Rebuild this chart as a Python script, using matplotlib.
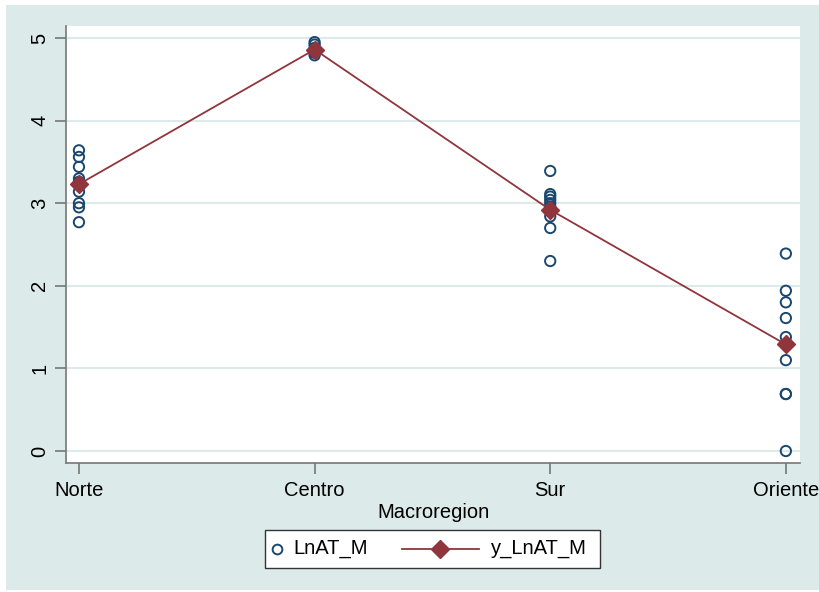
import matplotlib.pyplot as plt
from matplotlib.patches import Rectangle
from matplotlib.lines import Line2D

plt.rcParams['font.family'] = ['Liberation Sans', 'DejaVu Sans']

regiones = ['Norte', 'Centro', 'Sur', 'Oriente']

# valores observados LnAT_M por macroregion
norte = [3.64, 3.56, 3.44, 3.30, 3.26, 3.22, 3.14, 3.00, 2.95, 2.77]
centro = [4.95, 4.92, 4.88, 4.85, 4.82, 4.79]
sur = [3.39, 3.11, 3.08, 3.04, 3.00, 2.96, 2.84, 2.70, 2.30]
oriente = [2.39, 1.94, 1.80, 1.61, 1.38, 1.10, 0.69, 0.69, 0.0]

# promedio ajustado y_LnAT_M
y_media = [3.23, 4.86, 2.92, 1.29]

azul = '#1a476f'
granate = '#90353b'
fondo = '#ddeaea'
fs = 14.5

W, H = 819, 592
fig = plt.figure(figsize=(8.19, 5.92), dpi=100, facecolor='white')
fig.patches.append(Rectangle((6 / W, 2 / H), 1, 1 - 7 / H,
                             transform=fig.transFigure, facecolor=fondo,
                             edgecolor='none', zorder=-5))

ax = fig.add_axes([66 / W, 1 - 463 / H, (800 - 66) / W, (463 - 26) / H])
ax.set_facecolor('white')

grupos = [norte, centro, sur, oriente]
for i, vals in enumerate(grupos):
    ax.scatter([i] * len(vals), vals, s=55, facecolors='none',
               edgecolors=azul, linewidths=1.4, zorder=3)

ax.plot(range(4), y_media, color=granate, lw=1.3, marker='D', ms=9,
        markerfacecolor=granate, markeredgecolor=granate, zorder=4)

ax.set_xlim(-0.055, 3.06)
ax.set_ylim(-0.145, 5.145)
ax.set_yticks([0, 1, 2, 3, 4, 5])
ax.set_yticklabels(['0', '1', '2', '3', '4', '5'], rotation=90, va='center')
ax.set_xticks(range(4))
ax.set_xticklabels(regiones)
ax.grid(axis='y', color=fondo, lw=1.5)
ax.set_axisbelow(True)

for lado in ['top', 'right']:
    ax.spines[lado].set_visible(False)
for lado in ['left', 'bottom']:
    ax.spines[lado].set_color('#777777')
    ax.spines[lado].set_linewidth(1.2)
ax.tick_params(colors='#777777', labelcolor='black', labelsize=fs, length=8, width=1.2)
ax.tick_params(axis='y', pad=4)
ax.tick_params(axis='x', pad=5)

ax.set_xlabel('Macroregion', fontsize=fs, labelpad=2)

# leyenda dibujada a mano (estilo Stata)
def fx(px):
    return px / W

def fy(py):
    return 1 - py / H

fig.patches.append(Rectangle((fx(265), fy(568)), fx(600) - fx(265), fy(530) - fy(568),
                             transform=fig.transFigure, facecolor='white',
                             edgecolor='#333333', lw=1.0, zorder=5))
fig.lines.append(Line2D([fx(277)], [fy(549)], ls='none', marker='o', ms=7,
                        mfc='none', mec=azul, mew=1.4, transform=fig.transFigure, zorder=6))
fig.lines.append(Line2D([fx(402), fx(479)], [fy(549), fy(549)], color=granate, lw=1.3,
                        transform=fig.transFigure, zorder=6))
fig.lines.append(Line2D([fx(440)], [fy(549)], ls='none', marker='D', ms=9,
                        mfc=granate, mec=granate, transform=fig.transFigure, zorder=7))
fig.text(fx(293), fy(549), 'LnAT_M', fontsize=fs, va='center', ha='left', zorder=7)
fig.text(fx(491), fy(549), 'y_LnAT_M', fontsize=fs, va='center', ha='left', zorder=7)

fig.savefig('out.png', dpi=100)
